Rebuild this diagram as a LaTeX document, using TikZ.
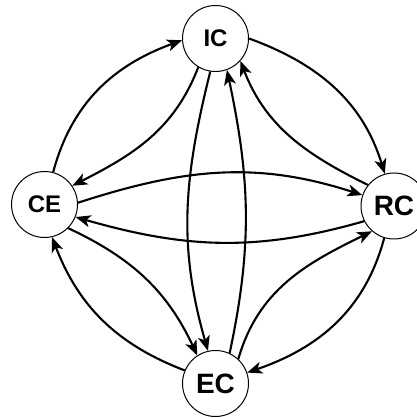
\documentclass[tikz,border=0pt]{standalone}
\usepackage{fontspec}
\setmainfont{Liberation Sans}
\usetikzlibrary{arrows.meta}
\begin{document}
\begin{tikzpicture}[x=1pt,y=1pt,
  state/.style={circle,draw,line width=1pt,minimum size=66pt,inner sep=0pt,font=\bfseries},
  flow/.style={line width=2.1pt,-{Stealth[length=15pt,width=12pt,inset=4pt]}}]
\fill[white] (0,0) rectangle (417,418);
\useasboundingbox (0,0) rectangle (417,418);
% the four states
\node[state,font=\bfseries\fontsize{24}{24}\selectfont] (IC) at (215.5,379.5) {IC};
\node[state,font=\bfseries\fontsize{24}{24}\selectfont] (CE) at (44.5,213.5) {CE};
\node[state,font=\bfseries\fontsize{28}{28}\selectfont] (RC) at (394,212) {RC};
\node[state,font=\bfseries\fontsize{28}{28}\selectfont] (EC) at (215.5,34.5) {EC};
% outer arcs
\draw[flow] (CE.75) to[out=75,in=200] (IC.183);
\draw[flow] (IC.0) to[out=-20,in=107] (RC.106);
\draw[flow] (RC.253) to[out=255,in=19] (EC.19);
\draw[flow] (EC.157) to[out=159,in=291] (CE.283);
% inner arcs
\draw[flow] (IC.239) to[out=249,in=27] (CE.34);
\draw[flow] (RC.141) to[out=154,in=291] (IC.318);
\draw[flow] (CE.315) to[out=-25,in=115] (EC.123);
\draw[flow] (EC.47) to[out=74,in=206] (RC.229);
% verticals
\draw[flow] (IC.261) to[out=256,in=106] (EC.103);
\draw[flow] (EC.65) to[out=78,in=282] (IC.290);
% horizontals
\draw[flow] (CE.3) to[out=18,in=162] (RC.161);
\draw[flow] (RC.207) to[out=196,in=-16] (CE.338);
\end{tikzpicture}
\end{document}
